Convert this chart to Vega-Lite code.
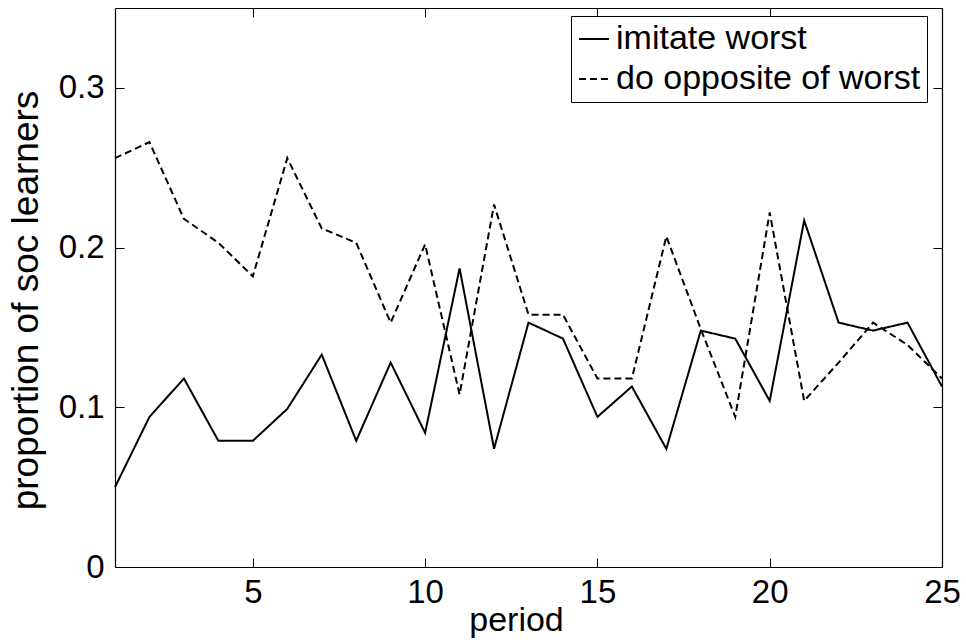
{
  "$schema": "https://vega.github.io/schema/vega-lite/v6.json",
  "width": 827,
  "height": 559,
  "autosize": {"type": "none"},
  "padding": {"left": 115, "top": 8, "right": 24, "bottom": 76},
  "background": "white",
  "config": {
    "view": {"stroke": null},
    "font": "Liberation Sans",
    "axis": {
      "grid": false,
      "domainColor": "black",
      "domainWidth": 1.2,
      "tickColor": "black",
      "tickWidth": 1,
      "tickSize": -9,
      "labelColor": "black",
      "labelFont": "Liberation Sans",
      "labelFontSize": 33,
      "titleFont": "Liberation Sans",
      "titleFontWeight": "normal",
      "titleColor": "black"
    }
  },
  "data": {
    "values": [
      {"period": 1, "series": "imitate worst", "proportion": 0.050},
      {"period": 2, "series": "imitate worst", "proportion": 0.094},
      {"period": 3, "series": "imitate worst", "proportion": 0.118},
      {"period": 4, "series": "imitate worst", "proportion": 0.079},
      {"period": 5, "series": "imitate worst", "proportion": 0.079},
      {"period": 6, "series": "imitate worst", "proportion": 0.099},
      {"period": 7, "series": "imitate worst", "proportion": 0.133},
      {"period": 8, "series": "imitate worst", "proportion": 0.079},
      {"period": 9, "series": "imitate worst", "proportion": 0.128},
      {"period": 10, "series": "imitate worst", "proportion": 0.084},
      {"period": 11, "series": "imitate worst", "proportion": 0.187},
      {"period": 12, "series": "imitate worst", "proportion": 0.074},
      {"period": 13, "series": "imitate worst", "proportion": 0.153},
      {"period": 14, "series": "imitate worst", "proportion": 0.143},
      {"period": 15, "series": "imitate worst", "proportion": 0.094},
      {"period": 16, "series": "imitate worst", "proportion": 0.113},
      {"period": 17, "series": "imitate worst", "proportion": 0.074},
      {"period": 18, "series": "imitate worst", "proportion": 0.148},
      {"period": 19, "series": "imitate worst", "proportion": 0.143},
      {"period": 20, "series": "imitate worst", "proportion": 0.104},
      {"period": 21, "series": "imitate worst", "proportion": 0.217},
      {"period": 22, "series": "imitate worst", "proportion": 0.153},
      {"period": 23, "series": "imitate worst", "proportion": 0.148},
      {"period": 24, "series": "imitate worst", "proportion": 0.153},
      {"period": 25, "series": "imitate worst", "proportion": 0.113},
      {"period": 1, "series": "do opposite of worst", "proportion": 0.256},
      {"period": 2, "series": "do opposite of worst", "proportion": 0.266},
      {"period": 3, "series": "do opposite of worst", "proportion": 0.218},
      {"period": 4, "series": "do opposite of worst", "proportion": 0.203},
      {"period": 5, "series": "do opposite of worst", "proportion": 0.182},
      {"period": 6, "series": "do opposite of worst", "proportion": 0.256},
      {"period": 7, "series": "do opposite of worst", "proportion": 0.212},
      {"period": 8, "series": "do opposite of worst", "proportion": 0.203},
      {"period": 9, "series": "do opposite of worst", "proportion": 0.153},
      {"period": 10, "series": "do opposite of worst", "proportion": 0.202},
      {"period": 11, "series": "do opposite of worst", "proportion": 0.108},
      {"period": 12, "series": "do opposite of worst", "proportion": 0.227},
      {"period": 13, "series": "do opposite of worst", "proportion": 0.158},
      {"period": 14, "series": "do opposite of worst", "proportion": 0.158},
      {"period": 15, "series": "do opposite of worst", "proportion": 0.118},
      {"period": 16, "series": "do opposite of worst", "proportion": 0.118},
      {"period": 17, "series": "do opposite of worst", "proportion": 0.207},
      {"period": 18, "series": "do opposite of worst", "proportion": 0.149},
      {"period": 19, "series": "do opposite of worst", "proportion": 0.094},
      {"period": 20, "series": "do opposite of worst", "proportion": 0.222},
      {"period": 21, "series": "do opposite of worst", "proportion": 0.104},
      {"period": 22, "series": "do opposite of worst", "proportion": 0.128},
      {"period": 23, "series": "do opposite of worst", "proportion": 0.153},
      {"period": 24, "series": "do opposite of worst", "proportion": 0.139},
      {"period": 25, "series": "do opposite of worst", "proportion": 0.118}
    ]
  },
  "layer": [
    {
      "mark": {"type": "line", "color": "black", "strokeWidth": 2},
      "encoding": {
        "x": {
          "field": "period", "type": "quantitative",
          "scale": {"domain": [1, 25], "nice": false, "zero": false},
          "axis": {"orient": "bottom", "values": [5, 10, 15, 20, 25], "labelFlush": false, "labelPadding": 18, "title": "period", "titleFontSize": 34, "titleX": 401, "titleY": 63, "titleBaseline": "alphabetic"}
        },
        "y": {
          "field": "proportion", "type": "quantitative",
          "scale": {"domain": [0, 0.35], "nice": false},
          "axis": {"orient": "left", "values": [0, 0.1, 0.2, 0.3], "format": "~g", "labelPadding": 20, "title": "proportion of soc learners", "titleFontSize": 37, "titleX": -78, "titleY": 292, "titleBaseline": "alphabetic", "titleAngle": 270}
        },
        "strokeDash": {
          "field": "series", "type": "nominal",
          "scale": {"domain": ["imitate worst", "do opposite of worst"], "range": [[1, 0], [7, 4]]},
          "legend": {
            "title": null, "orient": "none", "legendX": 456, "legendY": 8,
            "strokeColor": "black", "fillColor": "white", "padding": 6,
            "labelFontSize": 34, "labelColor": "black", "labelFont": "Liberation Sans", "labelOffset": 5, "labelLimit": 0,
            "symbolType": "stroke", "symbolSize": 900, "symbolStrokeWidth": 2, "symbolStrokeColor": "black",
            "rowPadding": 6, "cornerRadius": 0
          }
        }
      }
    },
    {
      "mark": {"type": "line", "color": "black", "strokeOpacity": 0},
      "encoding": {
        "x": {
          "field": "period", "type": "quantitative",
          "scale": {"domain": [1, 25], "nice": false, "zero": false},
          "axis": {"orient": "top", "values": [5, 10, 15, 20, 25], "labels": false, "title": null}
        },
        "y": {
          "field": "proportion", "type": "quantitative",
          "scale": {"domain": [0, 0.35], "nice": false},
          "axis": {"orient": "right", "values": [0, 0.1, 0.2, 0.3], "labels": false, "title": null}
        }
      }
    }
  ],
  "resolve": {"axis": {"x": "independent", "y": "independent"}}
}
